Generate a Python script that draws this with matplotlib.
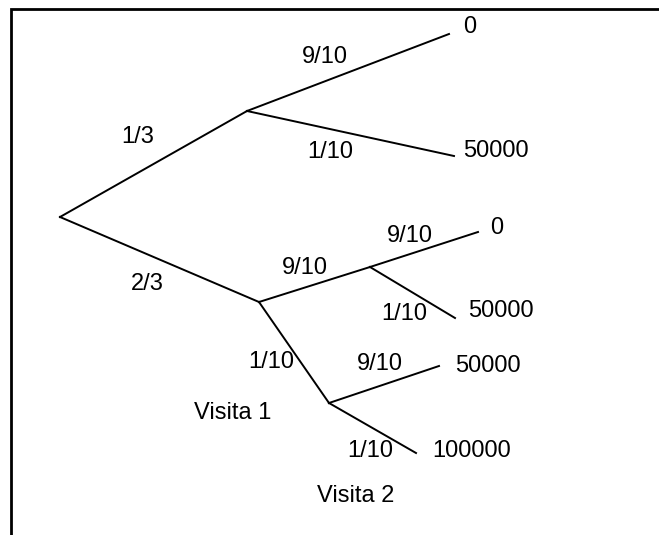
import matplotlib.pyplot as plt

plt.rcParams['font.family'] = ['Liberation Sans', 'DejaVu Sans']

# tree nodes (pixel positions on the page, y grows downwards)
node_x = [60, 247, 449, 454, 259, 370, 478, 455, 329, 439, 416]
node_y = [217, 111, 34, 156, 302, 267, 232, 318, 403, 366, 453]
edges = [(0, 1), (1, 2), (1, 3), (0, 4), (4, 5), (5, 6), (5, 7),
         (4, 8), (8, 9), (8, 10)]

# probabilities written along the branches
prob_text = ["1/3", "9/10", "1/10", "2/3", "9/10", "9/10", "1/10",
             "1/10", "9/10", "1/10"]
prob_x = [138, 325, 330, 147, 305, 410, 404, 271, 380, 370]
prob_y = [137, 57, 152, 284, 268, 236, 314, 362, 364, 451]

# outcomes at the leaves
outcome_text = ["0", "50000", "0", "50000", "50000", "100000"]
outcome_x = [463, 463, 490, 468, 455, 432]
outcome_y = [27, 151, 228, 311, 366, 451]

stage_text = ["Visita 1", "Visita 2"]
stage_x = [233, 356]
stage_y = [413, 496]

fig = plt.figure(figsize=(6.59, 5.35), dpi=100)
ax = fig.add_axes([0, 0, 1, 1])
ax.set_xlim(0, 659)
ax.set_ylim(535, 0)
ax.axis("off")

# frame: only top and left edges are visible
ax.plot([11, 11, 659], [535, 9, 9], color="black", lw=2.0,
        solid_joinstyle="miter")

for a, b in edges:
    ax.plot([node_x[a], node_x[b]], [node_y[a], node_y[b]],
            color="black", lw=1.4)

fs = 17
for t, x, y in zip(prob_text, prob_x, prob_y):
    ax.text(x, y, t, fontsize=fs, ha="center", va="center")
for t, x, y in zip(outcome_text, outcome_x, outcome_y):
    ax.text(x, y, t, fontsize=fs, ha="left", va="center")
for t, x, y in zip(stage_text, stage_x, stage_y):
    ax.text(x, y, t, fontsize=fs, ha="center", va="center")

fig.savefig("out.png", dpi=100)
